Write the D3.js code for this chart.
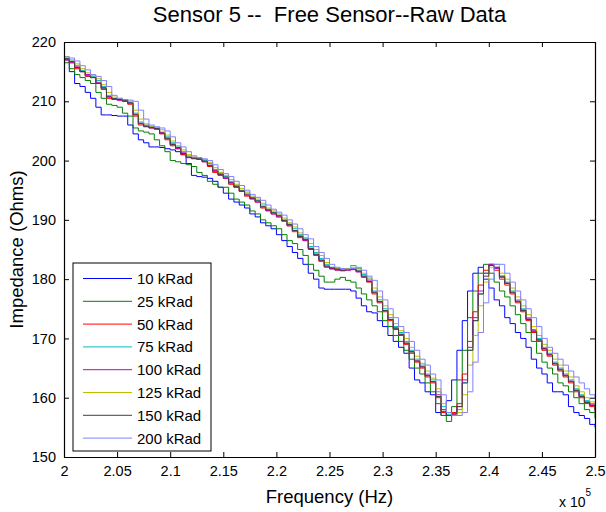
<!DOCTYPE html>
<html><head><meta charset="utf-8">
<script src="https://cdn.jsdelivr.net/npm/d3@7/dist/d3.min.js"></script>
<style>body{margin:0;background:#fff}svg{display:block;font-family:"Liberation Sans",Arial,sans-serif}</style>
</head><body><svg id="c" width="606" height="512"></svg>
<script>
const title = "Sensor 5 --  Free Sensor--Raw Data";
const xLabel = "Frequency (Hz)";
const yLabel = "Impedance (Ohms)";
const xTicks = [2, 2.05, 2.1, 2.15, 2.2, 2.25, 2.3, 2.35, 2.4, 2.45, 2.5];
const yTicks = [150, 160, 170, 180, 190, 200, 210, 220];
const seriesNames = ["10 kRad","25 kRad","50 kRad","75 kRad","100 kRad","125 kRad","150 kRad","200 kRad"];
const seriesColors = ["#0000ff","#008000","#ff0000","#00bfbf","#bf00bf","#bfbf00","#404040","#8080ff"];
// frequency in units of 1e5 Hz
const freq = [2.000,2.005,2.010,2.015,2.020,2.025,2.030,2.035,2.040,2.045,
2.050,2.055,2.060,2.065,2.070,2.075,2.080,2.085,2.090,2.095,
2.100,2.105,2.110,2.115,2.120,2.125,2.130,2.135,2.140,2.145,
2.150,2.155,2.160,2.165,2.170,2.175,2.180,2.185,2.190,2.195,
2.200,2.205,2.210,2.215,2.220,2.225,2.230,2.235,2.240,2.245,
2.250,2.255,2.260,2.265,2.270,2.275,2.280,2.285,2.290,2.295,
2.300,2.305,2.310,2.315,2.320,2.325,2.330,2.335,2.340,2.345,
2.350,2.355,2.360,2.365,2.370,2.375,2.380,2.385,2.390,2.395,
2.400,2.405,2.410,2.415,2.420,2.425,2.430,2.435,2.440,2.445,
2.450,2.455,2.460,2.465,2.470,2.475,2.480,2.485,2.490,2.495,2.500];
const rad10 = [217.0,215.0,213.0,212.5,211.5,210.5,209.0,207.7,207.7,207.6,
207.5,207.5,206.0,204.5,203.5,203.0,202.3,202.3,202.2,202.0,
201.8,201.5,201.0,199.5,197.5,197.3,197.2,197.0,196.5,195.5,
194.5,193.5,193.0,192.5,192.0,191.0,190.5,189.5,189.0,188.5,
187.5,186.5,185.5,184.5,183.5,182.5,181.0,180.0,178.5,178.3,
178.3,178.3,178.3,178.3,178.0,176.8,175.5,174.5,174.3,173.0,
172.0,170.5,169.5,168.5,167.5,165.0,163.0,162.5,161.0,160.5,
157.5,157.0,159.5,163.0,168.0,173.0,178.0,181.0,182.0,180.0,
178.5,176.5,175.5,173.5,172.5,171.0,170.0,168.5,166.5,165.0,
164.0,162.5,161.0,161.0,160.5,158.5,157.5,157.0,156.5,155.5,155.0];
const rad25 = [216.5,215.5,214.5,214.0,213.5,213.0,211.5,210.5,209.5,209.3,
209.0,208.0,207.5,205.5,205.0,204.8,204.5,203.5,202.5,201.5,
200.0,199.8,199.5,199.3,199.0,198.0,197.5,196.5,196.0,195.5,
195.5,194.5,193.5,193.0,192.5,191.5,191.0,190.0,189.5,189.0,
188.5,187.5,186.5,186.0,185.0,184.0,182.5,181.5,180.5,179.5,
179.5,180.0,180.3,179.8,179.5,178.5,177.5,176.5,175.5,174.5,
173.0,172.0,170.5,169.5,168.0,166.5,165.0,164.0,162.5,161.0,
159.0,157.0,156.0,158.5,163.0,168.0,173.5,178.0,181.0,182.5,
181.0,179.5,178.0,177.0,175.5,174.0,172.5,171.0,169.5,167.5,
166.0,165.0,164.0,162.5,162.0,161.0,160.0,159.0,158.0,157.5,156.5];
const rad50 = [217.0,216.5,215.5,215.0,214.2,214.0,213.0,212.0,210.5,210.3,
210.2,210.0,209.5,207.5,206.0,205.7,205.5,205.3,204.5,203.5,
202.5,202.0,201.0,200.5,200.4,200.2,199.8,199.0,198.0,197.5,
197.0,196.0,195.5,194.8,194.0,193.5,193.0,192.0,191.5,191.0,
190.5,189.8,189.0,188.0,187.0,186.5,185.0,184.0,183.0,182.0,
181.7,181.6,181.5,181.6,181.8,181.3,180.3,179.5,177.5,176.0,
174.5,173.0,171.5,170.5,169.0,167.5,166.0,165.0,163.5,162.5,
160.0,157.5,157.0,157.5,159.0,164.0,169.5,174.5,179.0,181.5,
182.5,181.5,180.0,179.0,177.5,176.0,174.5,173.0,171.0,169.5,
168.0,167.0,165.5,164.5,163.5,162.5,161.0,160.0,159.0,158.5,157.5];
const rad75 = [217.5,216.8,216.0,215.2,214.5,214.2,213.5,212.5,211.0,210.5,
210.3,210.2,209.8,208.0,206.5,206.0,205.7,205.5,204.8,204.0,
203.0,202.3,201.5,200.8,200.5,200.3,200.0,199.5,198.5,197.8,
197.3,196.5,195.8,195.0,194.5,193.8,193.3,192.5,191.8,191.3,
190.8,190.0,189.3,188.5,187.5,186.8,185.5,184.5,183.5,182.5,
182.0,181.8,181.7,181.8,182.3,181.8,180.8,180.0,178.0,176.5,
175.0,173.5,172.0,171.0,169.5,168.0,166.5,165.5,164.0,163.0,
161.0,158.5,157.2,157.0,158.0,162.5,168.0,173.0,177.5,181.0,
182.5,182.0,180.5,179.5,178.0,176.5,175.0,173.5,171.5,170.0,
168.5,167.5,166.0,165.0,164.0,163.0,161.5,160.5,159.5,159.0,158.0];
const rad100 = [217.0,216.5,215.8,215.0,214.5,214.0,213.2,212.3,210.8,210.4,
210.2,210.0,209.7,207.8,206.3,205.8,205.5,205.3,204.7,203.8,
202.8,202.0,201.3,200.5,200.3,200.2,199.8,199.2,198.3,197.6,
197.0,196.3,195.5,194.8,194.2,193.6,193.0,192.2,191.6,191.0,
190.5,189.8,189.0,188.2,187.3,186.5,185.2,184.2,183.2,182.2,
181.8,181.5,181.4,181.5,181.6,181.2,180.5,179.7,177.8,176.2,
174.7,173.2,171.8,170.7,169.2,167.8,166.2,165.2,163.8,162.7,
160.5,158.0,157.0,157.2,158.5,163.0,168.5,173.5,178.0,181.0,
182.5,181.8,180.3,179.3,177.8,176.3,174.8,173.3,171.3,169.8,
168.3,167.3,165.8,164.8,163.8,162.8,161.3,160.3,159.3,158.8,158.0];
const rad125 = [217.5,217.0,216.3,215.5,214.8,214.3,213.8,212.8,211.5,210.7,
210.5,210.3,210.0,208.5,207.0,206.2,205.8,205.6,205.2,204.3,
203.3,202.5,201.8,201.0,200.6,200.4,200.2,199.7,198.8,198.0,
197.5,196.8,196.0,195.3,194.7,194.0,193.5,192.8,192.0,191.5,
191.0,190.3,189.5,188.8,187.8,187.0,186.0,185.0,184.0,182.8,
182.0,181.8,181.7,181.8,182.0,181.7,181.0,180.2,178.5,177.0,
175.5,174.0,172.5,171.3,170.0,168.5,167.0,165.8,164.5,163.3,
161.5,159.0,157.5,157.0,157.5,160.5,165.5,170.5,175.5,179.5,
182.0,182.5,181.0,180.0,178.5,177.0,175.5,174.0,172.0,170.5,
169.0,168.0,166.5,165.5,164.5,163.5,162.0,161.0,160.0,159.3,158.5];
const rad150 = [217.2,216.7,215.7,215.0,214.3,214.0,213.0,212.2,210.7,210.4,
210.3,210.1,209.7,207.7,206.2,205.8,205.6,205.4,204.6,203.7,
202.7,202.2,201.2,200.6,200.4,200.3,199.9,199.2,198.2,197.7,
197.2,196.2,195.6,194.9,194.2,193.7,193.2,192.2,191.7,191.2,
190.7,189.9,189.2,188.2,187.2,186.7,185.2,184.2,183.2,182.2,
181.9,181.7,181.5,181.6,181.7,181.4,180.5,179.6,177.7,176.2,
174.7,173.2,171.7,170.7,169.2,167.7,166.2,165.2,163.7,162.7,
160.2,157.7,157.0,157.3,158.5,162.5,168.0,173.0,177.5,180.5,
182.3,182.0,180.5,179.3,177.7,176.2,174.7,173.2,171.2,169.7,
168.2,167.2,165.7,164.7,163.7,162.7,161.2,160.2,159.2,158.7,157.8];
const rad200 = [217.5,217.3,216.8,216.0,215.3,214.5,214.2,213.5,212.5,211.0,
210.5,210.3,210.2,210.0,208.5,207.0,206.0,205.7,205.5,205.0,
204.0,203.0,202.3,201.5,200.8,200.5,200.3,200.0,199.3,198.5,
197.8,197.3,196.5,195.8,195.0,194.3,193.8,193.3,192.5,191.8,
191.3,190.8,190.0,189.3,188.5,187.5,186.8,185.5,184.5,183.5,
182.5,182.0,181.8,181.7,181.8,182.0,181.5,180.5,179.8,178.0,
176.5,175.0,173.5,172.0,171.0,169.5,168.0,166.5,165.5,164.0,
163.0,160.5,157.5,157.0,157.0,157.5,161.0,166.0,171.0,176.0,
180.0,182.5,182.5,181.0,179.5,178.0,176.5,175.0,173.5,172.0,
170.0,168.5,167.5,166.5,165.5,164.5,163.5,162.5,161.5,160.5,160.0];
const seriesValues = [rad10, rad25, rad50, rad75, rad100, rad125, rad150, rad200];

const L = 64, R = 595, T = 42, B = 457;
const svg = d3.select("#c");
const x = d3.scaleLinear().domain([2, 2.5]).range([L, R]);
const y = d3.scaleLinear().domain([150, 220]).range([B, T]);

svg.append("defs").append("clipPath").attr("id","clip")
  .append("rect").attr("x",L).attr("y",T).attr("width",R-L).attr("height",B-T);

const line = d3.line().x(d => x(d[0])).y(d => y(d[1])).curve(d3.curveStepAfter);
const g = svg.append("g").attr("clip-path","url(#clip)");
seriesValues.forEach((vals, k) => {
  g.append("path").datum(freq.map((f, i) => [f, vals[i]]))
    .attr("d", line).attr("fill","none")
    .attr("stroke", seriesColors[k]).attr("stroke-width", 1);
});

const fmt = d => String(d);
const tl = 5;
const axB = svg.append("g").attr("transform",`translate(0,${B})`)
  .call(d3.axisBottom(x).tickValues(xTicks).tickFormat(fmt).tickSizeInner(-tl).tickSizeOuter(0).tickPadding(9));
const axT = svg.append("g").attr("transform",`translate(0,${T})`)
  .call(d3.axisTop(x).tickValues(xTicks).tickFormat("").tickSizeInner(-tl).tickSizeOuter(0));
const axL = svg.append("g").attr("transform",`translate(${L},0)`)
  .call(d3.axisLeft(y).tickValues(yTicks).tickFormat(fmt).tickSizeInner(-tl).tickSizeOuter(0).tickPadding(8));
const axR = svg.append("g").attr("transform",`translate(${R},0)`)
  .call(d3.axisRight(y).tickValues(yTicks).tickFormat("").tickSizeInner(-tl).tickSizeOuter(0));
[axB, axT, axL, axR].forEach(a => {
  a.selectAll("path.domain").attr("stroke","#000").attr("stroke-width",1.2);
  a.selectAll(".tick line").attr("stroke","#000");
  a.selectAll("text").attr("fill","#000").style("font-size","14.5px").style("font-family","'Liberation Sans',Arial,sans-serif");
});

svg.append("text").attr("x",(L+R)/2).attr("y",22).attr("text-anchor","middle")
  .style("font-size","22px").style("white-space","pre").text(title);
svg.append("text").attr("x",(L+R)/2).attr("y",503).attr("text-anchor","middle")
  .style("font-size","18.5px").text(xLabel);
svg.append("text").attr("transform",`translate(23,${(T+B)/2}) rotate(-90)`).attr("text-anchor","middle")
  .style("font-size","18.5px").text(yLabel);
const ex = svg.append("text").attr("x",559).attr("y",507).style("font-size","14px");
ex.append("tspan").text("x 10");
ex.append("tspan").attr("dy",-11).style("font-size","10px").text("5");

// legend
const lg = svg.append("g");
const lx = 73, ly = 263, lw = 138, lh = 188;
lg.append("rect").attr("x",lx).attr("y",ly).attr("width",lw).attr("height",lh)
  .attr("fill","#fff").attr("stroke","#000").attr("stroke-width",1);
seriesNames.forEach((n, k) => {
  const yy = ly + 15.5 + k * 22.8;
  lg.append("line").attr("x1",lx+10).attr("x2",lx+59).attr("y1",yy).attr("y2",yy)
    .attr("stroke",seriesColors[k]).attr("stroke-width",1);
  lg.append("text").attr("x",lx+64).attr("y",yy+5.5).style("font-size","15px").text(n);
});
</script></body></html>
